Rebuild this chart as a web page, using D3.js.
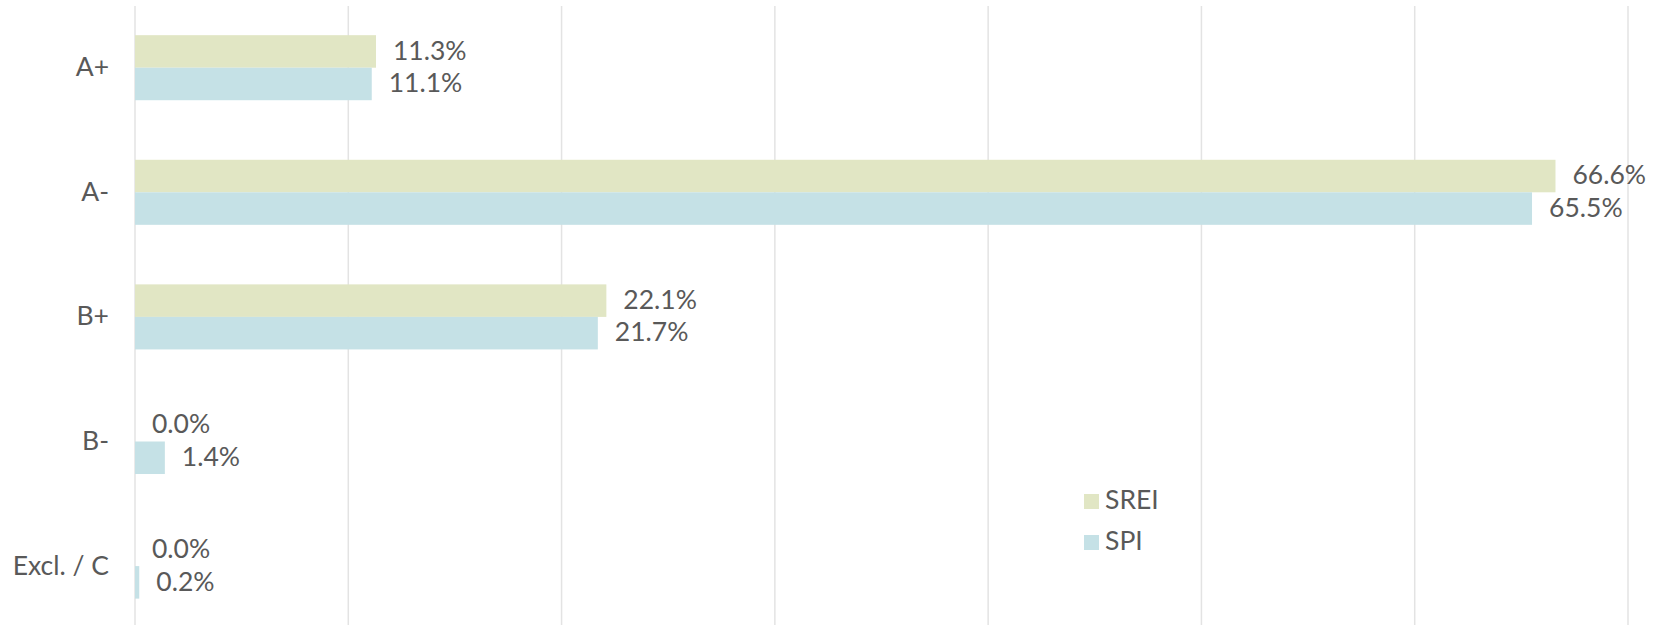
<!DOCTYPE html>
<html>
<head>
<meta charset="utf-8">
<script src="https://cdn.jsdelivr.net/npm/d3@7"></script>
<style>
  html, body { margin: 0; padding: 0; background: #fff; }
  svg { display: block; font-family: Lato, 'Open Sans', sans-serif; }
</style>
</head>
<body>
<svg id="chart" width="1665" height="625"></svg>
<script>
// Chart data
const categories = ['A+', 'A-', 'B+', 'B-', 'Excl. / C'];
const seriesNames = ['SREI', 'SPI'];
const sreiValues = [11.3, 66.6, 22.1, 0.0, 0.0];
const spiValues = [11.1, 65.5, 21.7, 1.4, 0.2];
const xTicks = [0, 10, 20, 30, 40, 50, 60, 70];

const colors = { SREI: '#e1e6c4', SPI: '#c5e1e6' };
const textColor = '#595959';
const gridColor = '#e3e3e3';
const fontSize = '26.5px';

const svg = d3.select('#chart');
const width = 1665, height = 625;
const left = 135, right = 1628;

const x = d3.scaleLinear().domain([0, 70]).range([left, right]);

const y = d3.scaleBand()
  .domain(categories)
  .range([5.4, 628.4])
  .paddingInner(0.478)
  .paddingOuter(0.239);

const ySub = d3.scaleBand()
  .domain(seriesNames)
  .range([0, y.bandwidth()])
  .padding(0);

// Vertical grid lines
svg.append('g')
  .attr('class', 'grid')
  .selectAll('line')
  .data(xTicks)
  .join('line')
  .attr('x1', d => x(d))
  .attr('x2', d => x(d))
  .attr('y1', 6)
  .attr('y2', height)
  .attr('stroke', gridColor)
  .attr('stroke-width', 1.5);

// Build rows
const rows = categories.map((c, i) => ({
  category: c,
  values: [
    { series: 'SREI', value: sreiValues[i] },
    { series: 'SPI', value: spiValues[i] }
  ]
}));

const groups = svg.append('g')
  .attr('class', 'bars')
  .selectAll('g')
  .data(rows)
  .join('g')
  .attr('transform', d => `translate(0, ${y(d.category)})`);

groups.selectAll('rect')
  .data(d => d.values)
  .join('rect')
  .attr('x', x(0))
  .attr('y', d => ySub(d.series))
  .attr('width', d => x(d.value) - x(0))
  .attr('height', ySub.bandwidth())
  .attr('fill', d => colors[d.series]);

groups.selectAll('text')
  .data(d => d.values)
  .join('text')
  .attr('x', d => x(d.value) + 17)
  .attr('y', d => ySub(d.series) + ySub.bandwidth() / 2 + 1.5)
  .attr('dominant-baseline', 'middle')
  .attr('fill', textColor)
  .attr('font-size', fontSize)
  .text(d => d.value.toFixed(1) + '%');

// Category axis
const yAxis = d3.axisLeft(y).tickSize(0).tickPadding(26);
const yAxisGroup = svg.append('g')
  .attr('class', 'axis axis-y')
  .attr('transform', `translate(${left}, 0)`)
  .call(yAxis);
yAxisGroup.select('.domain').remove();
yAxisGroup.selectAll('text')
  .attr('fill', textColor)
  .attr('font-size', fontSize)
  .attr('font-family', 'Lato, sans-serif');

// Legend
const legend = svg.append('g')
  .attr('class', 'legend')
  .attr('transform', 'translate(1084, 494)');

const legendItems = legend.selectAll('g')
  .data(seriesNames)
  .join('g')
  .attr('transform', (d, i) => `translate(0, ${i * 41})`);

legendItems.append('rect')
  .attr('width', 15)
  .attr('height', 15)
  .attr('fill', d => colors[d]);

legendItems.append('text')
  .attr('x', 21)
  .attr('y', 8.5)
  .attr('dominant-baseline', 'middle')
  .attr('fill', textColor)
  .attr('font-size', fontSize)
  .text(d => d);
</script>
</body>
</html>
